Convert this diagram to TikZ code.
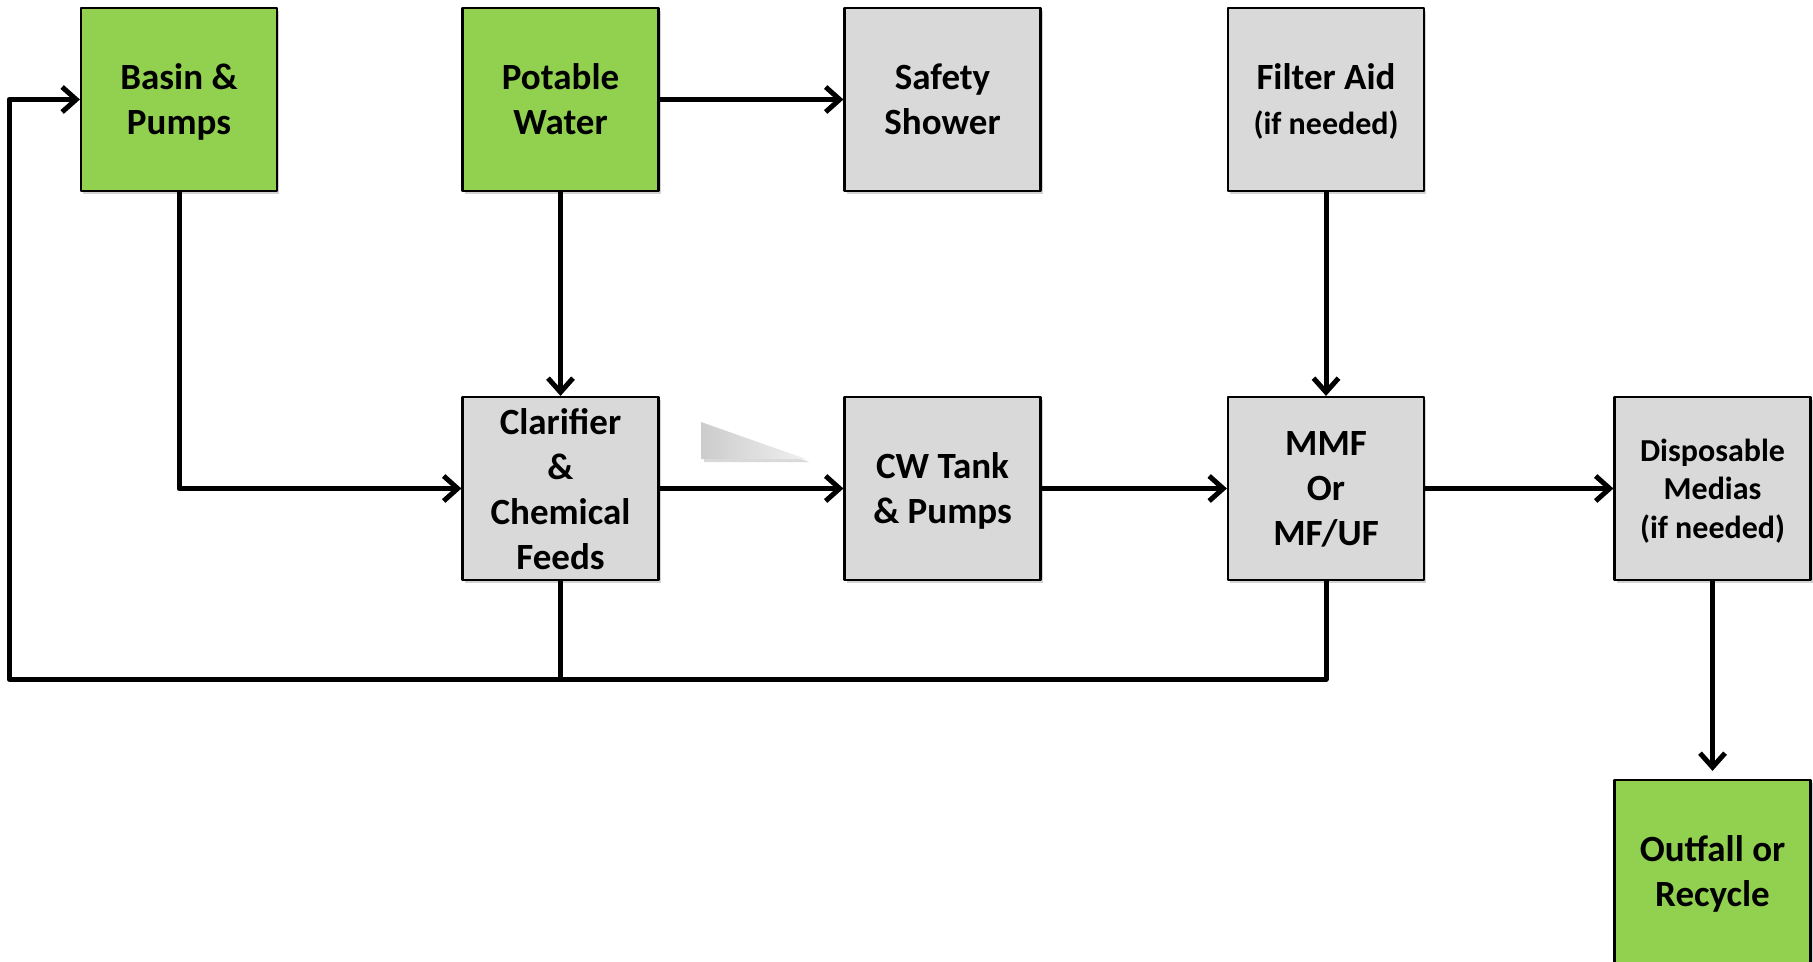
\documentclass[tikz,border=0pt]{standalone}
\usepackage{fontspec}
\setmainfont{Carlito}
\usetikzlibrary{arrows.meta}
\usetikzlibrary{shadows}
\definecolor{boxgreen}{RGB}{146,208,80}
\definecolor{boxgray}{RGB}{217,217,217}

\begin{document}
\begin{tikzpicture}[line cap=round,line join=round,x=0.5pt,y=-0.5pt,
  unit/.style={draw=black,line width=1.1pt,minimum width=98pt,minimum height=91.5pt,inner sep=0pt,
    align=center,text depth=0pt,font=\fontsize{18.5}{22.5}\selectfont\bfseries,
    drop shadow={shadow xshift=1.2pt,shadow yshift=-1.5pt,opacity=0.35}},
  green/.style={unit,fill=boxgreen},
  gray/.style={unit,fill=boxgray},
  pipe/.style={line width=2.5pt,line cap=butt},
  flow/.style={pipe,-{Straight Barb[length=7pt,width=12.5pt]}}]
\useasboundingbox (0,0) rectangle (1813,962);
% stray wedge
\fill[black,opacity=0.15] (704,425) -- (704,462) -- (809,462) -- cycle;
\shade[left color=gray!40,right color=gray!12] (701,422) -- (701,459) -- (806,459) -- cycle;
% top row
\node[green] (basin) at (179,99.5) {Basin \&\\Pumps};
\node[green] (potable) at (560.5,99.5) {Potable\\Water};
\node[gray] (shower) at (942.5,99.5) {Safety\\Shower};
\node[gray] (filteraid) at (1326,99.5) {Filter Aid\\{\fontsize{16}{19}\selectfont (if needed)}};
% middle row
\node[gray] (clarifier) at (560.5,488.5) {Clarifier\\\&\\Chemical\\Feeds};
\node[gray] (cwtank) at (942.5,488.5) {CW Tank\\\& Pumps};
\node[gray] (mmf) at (1326,488.5) {MMF\\Or\\MF/UF};
\node[gray,font=\fontsize{16}{19.2}\selectfont\bfseries] (disposable) at (1712.5,488.5) {Disposable\\Medias\\(if needed)};
% bottom
\node[green] (outfall) at (1712.5,871.5) {Outfall or\\Recycle};
\coordinate (loopL) at (9,679);
% connectors
\draw[flow] (basin.south) |- (clarifier.west);
\draw[flow] (potable.south) -- (clarifier.north);
\draw[flow] (potable.east) -- (shower.west);
\draw[flow] (filteraid.south) -- (mmf.north);
\draw[flow] (clarifier.east) -- (cwtank.west);
\draw[flow] (cwtank.east) -- (mmf.west);
\draw[flow] (mmf.east) -- (disposable.west);
\draw[flow,shorten >=4pt] (disposable.south) -- (outfall.north);
\draw[pipe] (clarifier.south) -- (clarifier.south |- loopL);
\draw[flow] (mmf.south) |- (loopL) |- (basin.west);
\end{tikzpicture}
\end{document}
